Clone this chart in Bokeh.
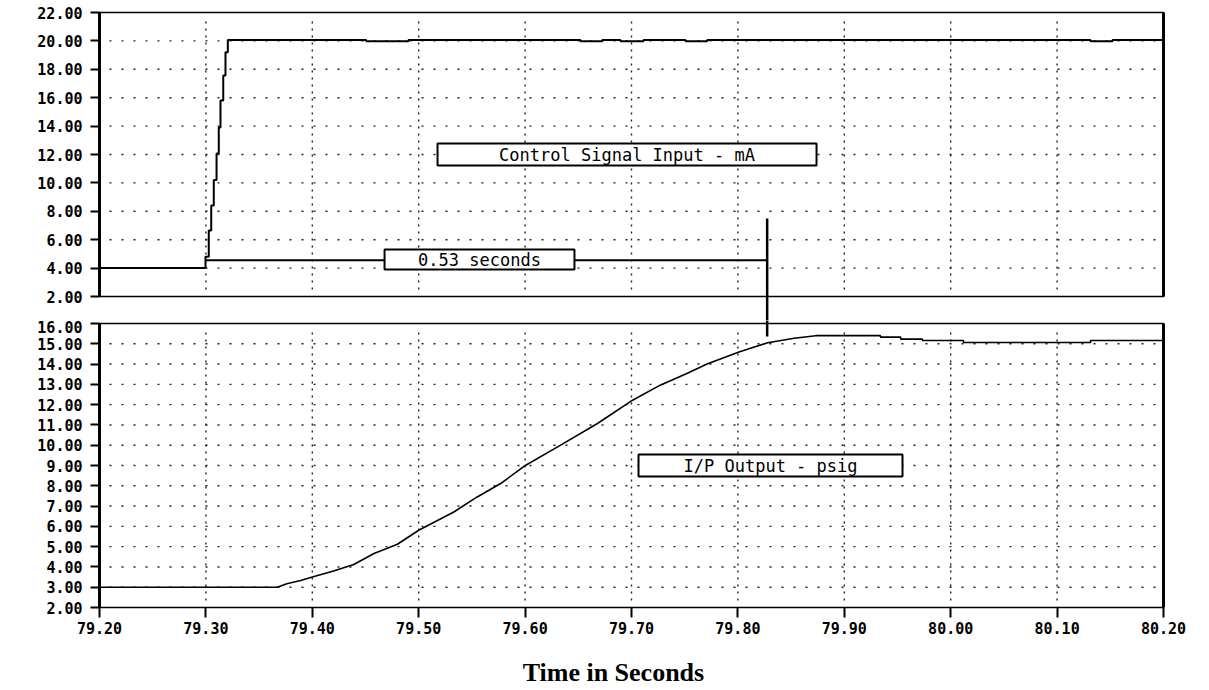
from bokeh.plotting import figure
from bokeh.layouts import column
from bokeh.models import FixedTicker, NumeralTickFormatter, Range1d
from bokeh.core.properties import value
from bokeh.embed import file_html
from bokeh.resources import INLINE

# ---------------- data ----------------
time_ticks = [79.20, 79.30, 79.40, 79.50, 79.60, 79.70, 79.80, 79.90, 80.00, 80.10, 80.20]
ma_ticks = [2, 4, 6, 8, 10, 12, 14, 16, 18, 20, 22]
psig_ticks = [2, 3, 4, 5, 6, 7, 8, 9, 10, 11, 12, 13, 14, 15, 16]

# Control signal input (mA), drawn as steps
ctrl_t = [79.2000, 79.2996, 79.3027, 79.3050, 79.3074, 79.3100, 79.3121, 79.3137,
          79.3163, 79.3184, 79.3206, 79.4507, 79.4904, 79.6521, 79.6725, 79.6897,
          79.7113, 79.7508, 79.7711, 80.1314, 80.1521, 80.2000]
ctrl_ma = [4.00, 4.80, 6.65, 8.40, 10.20, 12.07, 13.90, 15.80,
           17.56, 19.20, 20.06, 19.98, 20.06, 19.98, 20.06, 19.98,
           20.06, 19.98, 20.06, 19.98, 20.06, 20.06]

# I/P output (psig)
io_t = [79.200, 79.367, 79.376, 79.389, 79.400, 79.420, 79.439, 79.458, 79.480, 79.500,
        79.533, 79.555, 79.577, 79.599, 79.633, 79.668, 79.701, 79.727, 79.752, 79.771,
        79.801, 79.828, 79.853, 79.873, 79.934, 79.934, 79.953, 79.953, 79.9735, 79.9735,
        80.012, 80.012, 80.1314, 80.1314, 80.200]
io_psig = [3.00, 3.00, 3.17, 3.33, 3.50, 3.80, 4.12, 4.66, 5.12, 5.81,
           6.71, 7.45, 8.11, 8.96, 9.99, 11.07, 12.22, 12.96, 13.54, 14.00,
           14.60, 15.05, 15.27, 15.40, 15.40, 15.33, 15.33, 15.23, 15.23, 15.16,
           15.16, 15.06, 15.06, 15.16, 15.16]

# delay annotation
delay_start = 79.2996
delay_end = 79.8275
delay_level = 4.55
marker_top = 7.49      # on mA scale
marker_bottom = 15.36  # on psig scale

ctrl_label = "Control Signal Input - mA"
ctrl_label_t = [79.5177, 79.8739]
ctrl_label_v = [11.225, 12.775]
delay_label = "0.53 seconds"
delay_label_t = [79.4679, 79.6464]
delay_label_v = [3.90, 5.31]
io_label = "I/P Output - psig"
io_label_t = [79.7066, 79.9547]
io_label_v = [8.458, 9.542]

x_title = "Time in Seconds"
x_title_t = 79.683

# ---------------- layout ----------------
W = 1200
PX_X = 1064.0
xr = Range1d(time_ticks[0] - 3 / PX_X, time_ticks[-1] + 3 / PX_X)

MONO = "DejaVu Sans Mono"


def style_axis(ax, ticks):
    ax.ticker = FixedTicker(ticks=ticks)
    ax.formatter = NumeralTickFormatter(format="0.00")
    ax.axis_line_color = None
    ax.major_tick_line_color = "black"
    ax.major_tick_line_width = 2
    ax.minor_tick_line_color = None
    ax.major_label_text_font = MONO
    ax.major_label_text_font_style = "bold"
    ax.major_label_text_font_size = "15px"
    ax.major_label_text_color = "black"


def base_fig(height, yr, min_top, min_bottom, x_loc, y_loc):
    p = figure(width=W, height=height, x_range=xr, y_range=yr,
               output_backend="svg", toolbar_location=None,
               x_axis_location=x_loc, y_axis_location=y_loc,
               min_border_left=96, min_border_right=W - 1166,
               min_border_top=min_top, min_border_bottom=min_bottom)
    p.title.visible = False
    p.outline_line_color = None
    p.background_fill_color = "white"
    p.border_fill_color = "white"
    p.grid.visible = False
    return p


def make_panel(height, yr, ticks, px_y, min_top, min_bottom, show_x):
    p = base_fig(height, yr, min_top, min_bottom, "below" if show_x else None, "left")
    ya = p.yaxis[0]
    style_axis(ya, ticks)
    ya.major_tick_out = 6
    ya.major_tick_in = 3
    ya.major_label_standoff = 8
    if show_x:
        xa = p.xaxis[0]
        style_axis(xa, time_ticks)
        xa.major_tick_out = 8
        xa.major_tick_in = 2
        xa.major_label_standoff = 4

    lo, hi = ticks[0], ticks[-1]
    t0, t1 = time_ticks[0], time_ticks[-1]
    # dotted grid
    hy = ticks[1:-1]
    p.segment(x0=[t0 + 10 / PX_X] * len(hy), y0=hy, x1=[t1 - 7 / PX_X] * len(hy), y1=hy,
              line_color="#222222", line_width=1.4, line_dash="2 10")
    vx = time_ticks[1:-1]
    p.segment(x0=vx, y0=[lo + 7 / px_y] * len(vx), x1=vx, y1=[hi - 6.5 / px_y] * len(vx),
              line_color="#222222", line_width=1.4, line_dash="2 5")
    return p


# top panel: 22.00 at y=12, 14.2 px per mA
PY_TOP = 14.2
top_end = ma_ticks[-1] + 2 / PY_TOP
top_start = top_end - 310 / PY_TOP
top = make_panel(320, Range1d(top_start, top_end), ma_ticks, PY_TOP, 10, 0, False)

# bottom panel: 16.00 at y=323, 2.00 at y=607
PY_BOT = 284 / 14.0
bot_end = psig_ticks[-1] + 3 / PY_BOT
bot_start = bot_end - 289 / PY_BOT
bottom = make_panel(325, Range1d(bot_start, bot_end), psig_ticks, PY_BOT, 0, 36, True)

# strip holding the x-axis title (1 unit = 1 px)
title_strip = base_fig(45, Range1d(0, 45), 0, 0, None, None)

# data lines
top.step(ctrl_t, ctrl_ma, mode="after", line_color="black", line_width=2)
bottom.line(io_t, io_psig, line_color="black", line_width=1.6)

# frames
for p, ticks in ((top, ma_ticks), (bottom, psig_ticks)):
    lo, hi = ticks[0], ticks[-1]
    t0, t1 = time_ticks[0], time_ticks[-1]
    p.quad(left=[t0], right=[t1], bottom=[lo], top=[hi], fill_color=None,
           line_color="black", line_width=1.6)
    p.segment(x0=[t0, t1], y0=[lo, lo], x1=[t0, t1], y1=[hi, hi],
              line_color="black", line_width=3)

# delay annotation
top.line([delay_start, delay_end], [delay_level, delay_level], line_color="black", line_width=2)
top.segment(x0=[delay_end], y0=[marker_top], x1=[delay_end], y1=[top_start - 1],
            line_color="black", line_width=2.5)
bottom.segment(x0=[delay_end], y0=[bot_end + 1], x1=[delay_end], y1=[marker_bottom],
               line_color="black", line_width=2.5)


def boxed_text(p, txt, ts, vs):
    p.quad(left=[ts[0]], right=[ts[1]], bottom=[vs[0]], top=[vs[1]],
           fill_color="white", line_color="black", line_width=2)
    p.text(x=[(ts[0] + ts[1]) / 2], y=[(vs[0] + vs[1]) / 2], text=[txt],
           text_font=value(MONO), text_font_size="17px", text_color="black",
           text_align="center", text_baseline="middle")


boxed_text(top, ctrl_label, ctrl_label_t, ctrl_label_v)
boxed_text(top, delay_label, delay_label_t, delay_label_v)
boxed_text(bottom, io_label, io_label_t, io_label_v)

title_strip.text(x=[x_title_t], y=[18], text=[x_title],
                 text_font=value("Liberation Serif"), text_font_style="bold",
                 text_font_size="26px", text_color="black",
                 text_align="center", text_baseline="middle")

layout = column(top, bottom, title_strip, spacing=0)
open("out.html", "w").write(file_html(layout, INLINE))
